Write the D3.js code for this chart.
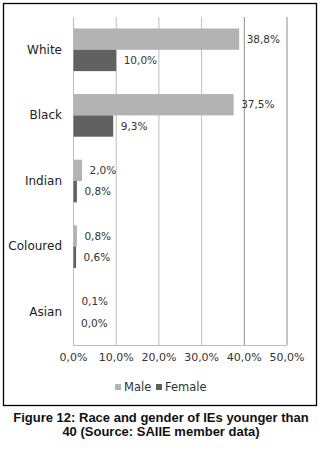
<!DOCTYPE html>
<html>
<head>
<meta charset="utf-8">
<script src="https://cdn.jsdelivr.net/npm/d3@7"></script>
<style>
  body { margin: 0; background: #fff; }
  svg { display: block; }
  text { font-family: "DejaVu Sans", Verdana, sans-serif; }
</style>
</head>
<body>
<script>
// Race and gender of IEs younger than 40

var categories = ["White", "Black", "Indian", "Coloured", "Asian"];
var male = [38.8, 37.5, 2.0, 0.8, 0.1];
var female = [10.0, 9.3, 0.8, 0.6, 0.0];
var series = ["Male", "Female"];
var ticks = [0, 10, 20, 30, 40, 50];

var colors = {Male: "#b3b3b3", Female: "#616161"};
var fmt = function(v) { return v.toFixed(1).replace(".", ",") + "%"; };

var svg = d3.select("body").append("svg")
    .attr("width", 321)
    .attr("height", 455);

// frame
svg.append("rect")
    .attr("x", 3.5).attr("y", 3.5)
    .attr("width", 313).attr("height", 402)
    .attr("fill", "none")
    .attr("stroke", "#000")
    .attr("stroke-width", 1.3);

var x = d3.scaleLinear().domain([0, 50]).range([73, 286.5]);
var y = d3.scaleBand().domain(categories).range([17, 345]).paddingInner(0.35).paddingOuter(0.175);
var ySub = d3.scaleBand().domain(series).range([0, y.bandwidth()]);

// gridlines
svg.append("g")
  .selectAll("line")
    .data(ticks)
    .enter()
  .append("line")
    .attr("x1", function(d) { return x(d) + 0.5; })
    .attr("x2", function(d) { return x(d) + 0.5; })
    .attr("y1", 17)
    .attr("y2", 345)
    .attr("stroke", function(d) { return d >= 40 ? "#8c8c8c" : "#bdbdbd"; })
    .attr("stroke-width", 1);

svg.append("line")
    .attr("x1", 73).attr("x2", x(50) + 0.5)
    .attr("y1", 345.5).attr("y2", 345.5)
    .attr("stroke", "#bdbdbd");

// x axis labels
var xAxis = d3.axisBottom(x).tickValues(ticks).tickSize(0).tickFormat(fmt);
var gx = svg.append("g")
    .attr("transform", "translate(0,350)")
    .call(xAxis);
gx.select(".domain").remove();
gx.selectAll("text")
    .attr("font-size", "11px")
    .attr("fill", "#333")
    .style("font-family", "'DejaVu Sans', sans-serif");

// category labels
var yAxis = d3.axisLeft(y).tickSize(0).tickPadding(0);
var gy = svg.append("g")
    .attr("transform", "translate(62,0)")
    .call(yAxis);
gy.select(".domain").remove();
gy.selectAll("text")
    .attr("font-size", "12px")
    .attr("fill", "#222")
    .style("font-family", "'DejaVu Sans', sans-serif");

var rows = categories.map(function(c, i) {
  return [{cat: c, s: "Male", v: male[i]}, {cat: c, s: "Female", v: female[i]}];
});
var flat = [].concat.apply([], rows);

svg.selectAll(".bar")
    .data(flat)
    .enter()
  .append("rect")
    .attr("class", "bar")
    .attr("x", x(0) + 0.5)
    .attr("y", function(d) { return y(d.cat) + ySub(d.s); })
    .attr("width", function(d) { return Math.max(0, x(d.v) - x(0)); })
    .attr("height", ySub.bandwidth())
    .attr("fill", function(d) { return colors[d.s]; });

svg.selectAll(".val")
    .data(flat)
    .enter()
  .append("text")
    .attr("class", "val")
    .attr("x", function(d) { return x(d.v) + 8; })
    .attr("y", function(d) { return y(d.cat) + ySub(d.s) + ySub.bandwidth() / 2; })
    .attr("dy", "0.35em")
    .attr("font-size", "10.5px")
    .attr("fill", "#333")
    .text(function(d) { return fmt(d.v); });

// legend
var legend = svg.append("g").attr("transform", "translate(0,387)");
var lx = [115, 156];
series.forEach(function(s, i) {
  legend.append("rect")
      .attr("x", lx[i]).attr("y", -3)
      .attr("width", 6).attr("height", 6)
      .attr("fill", colors[s]);
  legend.append("text")
      .attr("x", lx[i] + 9)
      .attr("y", 0)
      .attr("dy", "0.35em")
      .attr("font-size", "11.5px")
      .attr("fill", "#333")
      .text(s);
});

// caption
var caption = ["Figure 12: Race and gender of IEs younger than", "40 (Source: SAIIE member data)"];
svg.selectAll(".cap")
    .data(caption)
    .enter()
  .append("text")
    .attr("class", "cap")
    .attr("x", 161)
    .attr("y", function(d, i) { return 417 + i * 14; })
    .attr("dy", "0.35em")
    .attr("text-anchor", "middle")
    .attr("font-size", "13px")
    .attr("font-weight", "bold")
    .attr("fill", "#111")
    .style("font-family", "'Liberation Sans', Arial, sans-serif")
    .text(function(d) { return d; });
</script>
</body>
</html>
